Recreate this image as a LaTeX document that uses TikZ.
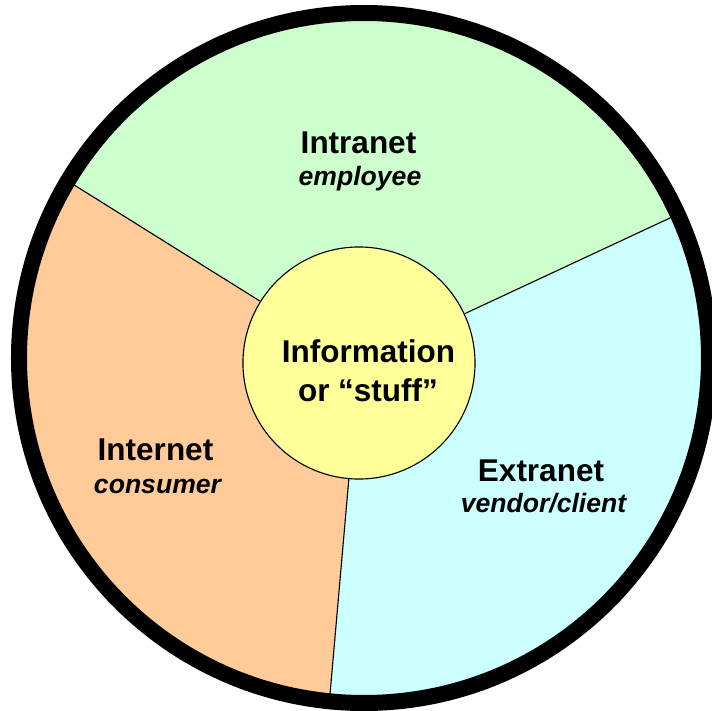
\documentclass[tikz,border=0pt]{standalone}
\usepackage{fontspec}
\setmainfont{Liberation Sans}
\usepackage{xcolor}
\usepackage{tikz}
\usetikzlibrary{positioning}
\definecolor{intragreen}{HTML}{CCFFCC}
\definecolor{interorange}{HTML}{FFCC99}
\definecolor{extracyan}{HTML}{CCFFFF}
\definecolor{infoyellow}{HTML}{FFFF99}

\begin{document}
\begin{tikzpicture}[x=0.025cm, y=0.025cm,
    title/.style={anchor=base, inner sep=0pt, font=\fontsize{22.4}{26}\selectfont\bfseries},
    role/.style={anchor=base, inner sep=0pt, font=\fontsize{18.9}{22}\selectfont\bfseries\itshape},
    divider/.style={line width=0.8pt}]
    \useasboundingbox (-364,-353) rectangle (348,358);
    \coordinate (hub) at (-5,-5);
    % the three slices
    \begin{scope}
      \clip (0,0) circle (345);
      \fill [intragreen] (hub) -- ++(25:500) arc (25:148:500) -- cycle;
      \fill [interorange] (hub) -- ++(148:500) arc (148:265:500) -- cycle;
      \fill [extracyan] (hub) -- ++(265:500) arc (265:385:500) -- cycle;
    \end{scope}
    \node [circle, draw, line width=0.8pt, fill=infoyellow, minimum size=5.8cm, inner sep=0pt] (core) at (hub) {};
    \path (hub) ++(25:345) coordinate (rimA);
    \path (hub) ++(148:340) coordinate (rimB);
    \path (hub) ++(265:340) coordinate (rimC);
    \draw [divider] (core.25) -- (rimA);
    \draw [divider] (core.148) -- (rimB);
    \draw [divider] (core.265) -- (rimC);
    \draw [line width=0.4cm] (0,0) circle (345);
    % labels
    \node [title] (intranet) at (-5.5,204) {Intranet};
    \node [role] (employee) at (-4,172) {employee};
    \node [title] (info) at (4.5,-5) {Information};
    \node [title] (stuff) at (4,-44) {or ``stuff''};
    \node [title] (internet) at (-208.5,-102) {Internet};
    \node [role] (consumer) at (-206.5,-135) {consumer};
    \node [title] (extranet) at (177,-123) {Extranet};
    \node [role] (vendor) at (179.5,-154.7) {vendor/client};
\end{tikzpicture}
\end{document}
